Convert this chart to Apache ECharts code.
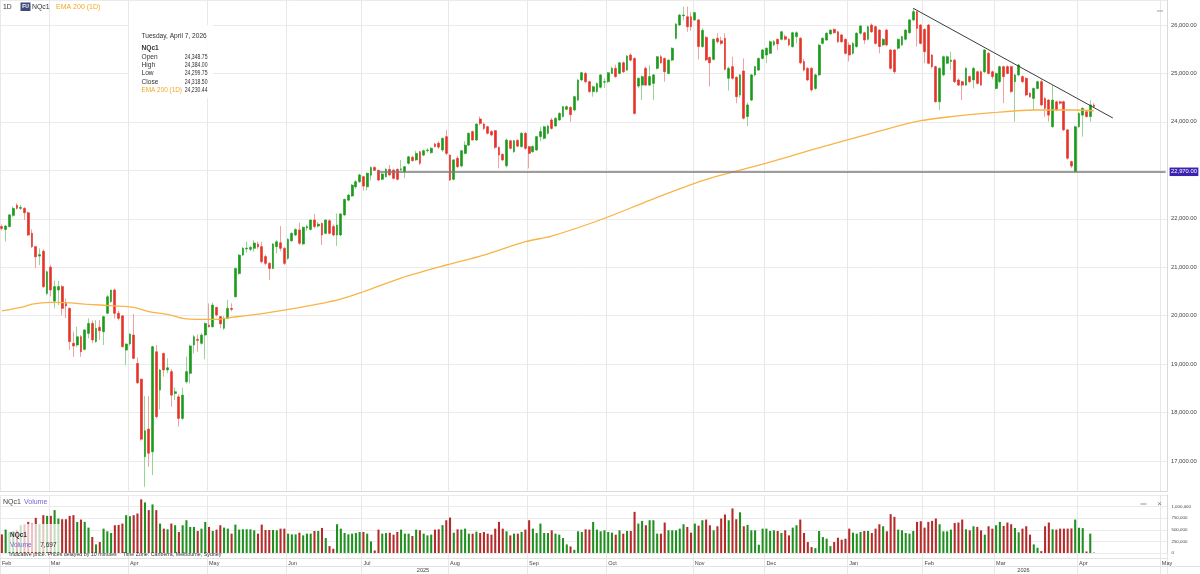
<!DOCTYPE html>
<html>
<head>
<meta charset="utf-8">
<title>NQc1 daily</title>
<script src="https://cdn.jsdelivr.net/npm/echarts@6/dist/echarts.min.js"></script>
<style>
html,body{margin:0;padding:0;background:#ffffff;}
#chart{width:1200px;height:574px;}
</style>
</head>
<body>
<div id="chart"></div>
<script>
// ================= DATA =================
// Each row: [Open, High, Low, Close]
const feb25 = [
[21840,21880,21760,21800],[21780,21870,21530,21850],[21840,22100,21820,22080],[22070,22250,22040,22215],
[22280,22320,22190,22215],[22215,22290,22180,22235],[22215,22240,21975,22125],[22125,22150,21640,21665],
[21700,21780,21400,21425],[21425,21440,20980,21215],[21230,21390,21045,21260],[21330,21370,20570,20600],
[20460,20930,20420,20905]];
const mar25 = [
[21000,21050,20400,20530],[20300,20720,20150,20600],[20530,20720,20220,20600],[20600,20630,20010,20150],
[20250,20350,19950,20200],[20150,20170,19290,19465],[19430,19670,19150,19375],[19395,19770,19350,19565],
[19565,19600,19150,19255],[19305,19720,19280,19705],[19635,19945,19530,19840],[19840,19900,19430,19500],
[19465,19910,19440,19740],[19760,19910,19500,19690],[19670,20000,19395,19980],[20050,20420,20030,20390],
[20290,20530,20260,20530],[20530,20560,19945,20050],[20050,20100,19900,19945],[19995,20010,19340,19360],
[19290,19430,18980,19415]];
const apr25 = [
[19415,19640,19380,19620],[19600,20035,19100,19120],[19015,19140,18590,18615],[18690,18700,17420,17450],
[17090,18340,16470,17625],[17660,18340,16880,17160],[17190,19380,16710,19360],[19255,19395,17880,17915],
[18465,18900,18065,18880],[19220,19235,18740,18880],[18880,19120,18810,18925],[18845,18900,18120,18360],
[18395,18515,18260,18430],[18325,18380,17710,17880],[17880,18515,17850,18360],[18635,19155,18600,18845],
[18810,19400,18600,19375],[19395,19600,19220,19565],[19510,19615,19255,19490],[19430,19640,19400,19600],
[19600,19860,19100,19840]];
const may25 = [
[19805,20255,19760,19770],[19770,20270,19760,20220],[20170,20185,19980,20015],[19980,19990,19740,19830],
[19740,19990,19705,19945],[19945,20325,19930,20150],[20150,20255,20090,20130],[20390,20990,20380,20975],
[20870,21270,20840,21250],[21250,21420,21230,21390],[21380,21525,21300,21395],[21370,21440,21330,21410],
[21390,21560,21320,21500],[21480,21530,21380,21420],[21425,21525,21080,21115],[21220,21260,21040,21080],
[21080,21110,20735,20975],[20975,21500,20960,21480],[21425,21560,21285,21525],[21505,21850,21330,21390],
[21390,21420,21050,21080]];
const jun25 = [
[21185,21600,21150,21575],[21545,21720,21530,21700],[21665,21800,21640,21780],[21770,21920,21460,21495],
[21480,21840,21460,21825],[21810,21880,21760,21840],[21780,21990,21760,21975],[21975,22100,21800,21840],
[21850,21940,21820,21890],[21905,21920,21460,21665],[21700,21990,21680,21975],[21960,21990,21680,21700],
[21840,21880,21640,21665],[21665,22110,21440,21870],[21665,22110,21640,22100],[22080,22420,22060,22400],
[22385,22510,22360,22490],[22470,22720,22450,22695],[22660,22800,22620,22765],[22765,22930,22740,22905]];
const jul25 = [
[22870,22890,22580,22675],[22660,22960,22580,22940],[22900,23080,22790,23060],[23060,23080,22990,23000],
[23000,23010,22780,22800],[22815,22950,22790,22925],[22870,23050,22850,23020],[23020,23110,22880,22905],
[23005,23030,22810,22835],[23020,23040,22790,22815],[23010,23215,22970,23030],[22970,23090,22835,23075],
[23145,23300,23120,23280],[23270,23300,23180,23200],[23215,23405,23190,23350],[23385,23400,23110,23145],
[23315,23430,23290,23405],[23405,23460,23370,23420],[23365,23480,23340,23455],[23545,23570,23470,23490],
[23560,23600,23440,23480],[23420,23680,23380,23660],[23695,23835,23315,23350]];
const aug25 = [
[23315,23330,22780,22800],[22815,23230,22790,23215],[23250,23300,23040,23075],[23090,23420,23060,23405],
[23350,23600,23330,23520],[23520,23780,23500,23765],[23800,23820,23620,23625],[23625,23970,23610,23955],
[24060,24110,23930,23970],[23955,23990,23830,23865],[23900,23920,23740,23765],[23800,23830,23700,23730],
[23820,23830,23440,23475],[23475,23490,23040,23315],[23330,23350,23190,23215],[23095,23660,23060,23625],
[23610,23630,23430,23455],[23385,23630,23360,23610],[23620,23640,23480,23500],[23490,23790,23470,23765],
[23765,23790,23420,23455]];
const sep25 = [
[23490,23500,23040,23350],[23385,23520,23360,23490],[23420,23710,23400,23695],[23695,23900,23600,23800],
[23660,23920,23640,23900],[23765,23940,23740,23915],[24040,24080,23840,23865],[23915,24090,23900,24075],
[24040,24200,24020,24175],[24110,24330,24090,24315],[24260,24340,24240,24315],[24300,24320,24000,24150],
[24245,24540,24220,24520],[24450,24880,24430,24865],[24865,25030,24840,25015],[25000,25030,24800,24830],
[24830,24850,24600,24625],[24625,24750,24520,24725],[24625,24810,24600,24795],[24715,24980,24690,24970],
[24820,24900,24700,24830]];
const oct25 = [
[24830,25030,24800,25015],[25000,25140,24990,25105],[25105,25180,24910,24935],[25000,25240,24980,25220],
[25220,25250,25010,25035],[25070,25380,25050,25360],[25380,25420,25250,25275],[25310,25330,24150,24175],
[24740,24920,24700,24900],[24760,24960,24450,24935],[25105,25140,24740,24760],[24760,25170,24740,24935],
[24795,24990,24450,24970],[25105,25360,25080,25345],[25345,25380,25200,25220],[25310,25330,24830,25035],
[25000,25290,24980,25275],[25275,25540,25250,25520],[25725,26040,25700,26020],[26000,26230,25980,26205],
[26190,26380,26100,26205],[26170,26380,25860,25965],[26170,26260,25880,25965]];
const nov25 = [
[26105,26270,26080,26255],[26105,26120,25290,25555],[25555,25930,25530,25890],[25745,25770,25250,25280],
[25330,25350,24730,25220],[25290,25720,25270,25705],[25725,25830,25620,25655],[25675,25760,25590,25620],
[25725,25830,25060,25085],[24900,25140,24645,25105],[25140,25345,24870,24900],[24920,24940,24385,24520],
[24555,24990,24500,24970],[25050,25310,24050,24075],[24110,24400,23915,24350],[24450,24990,24430,24970],
[24970,25160,24940,25140],[25070,25330,25050,25310],[25310,25500,25290,25485]];
const dec25 = [
[25380,25540,25210,25520],[25415,25680,25400,25655],[25590,25690,25560,25655],[25705,25720,25485,25610],
[25705,25880,25680,25860],[25760,25800,25680,25705],[25705,25730,25560,25590],[25555,25860,25530,25840],
[25760,25870,25620,25840],[25725,25750,25190,25220],[25245,25300,25040,25070],[25105,25130,24840,24865],
[25105,25130,24620,24660],[24690,25000,24660,24970],[24970,25610,24940,25585],[25620,25750,25600,25725],
[25690,25850,25670,25830],[25815,25910,25800,25895],[25910,25930,25820,25840],[25860,25880,25630,25655],
[25795,25810,25630,25655],[25705,25720,25390,25415]];
const jan26 = [
[25585,25640,25245,25380],[25415,25650,25390,25620],[25555,25850,25530,25830],[25830,26000,25800,25980],
[25840,25860,25610,25690],[25705,25990,25680,25965],[26000,26030,25840,25860],[25965,25990,25600,25620],
[25895,25910,25415,25555],[25590,25730,25560,25705],[25895,25920,25560,25590],[25485,25500,25080,25105],
[25485,25500,24990,25035],[25520,25720,25490,25705],[25590,25780,25560,25760],[25705,25920,25680,25895],
[25840,26120,25820,26105],[26105,26345,26080,26275],[26275,26290,25555,25930],[26000,26020,25600,25620]];
const feb26 = [
[25910,25930,25210,25450],[26000,26020,25190,25210],[25380,25400,25100,25140],[25140,25160,24400,24415],
[24415,25130,24245,25105],[24970,25370,24940,25345],[25210,25370,25190,25345],[25245,25450,25070,25275],
[25275,25300,24800,24830],[24865,24900,24740,24760],[24830,24850,24450,24760],[24760,25130,24740,25105],
[24935,24960,24800,24830],[24865,25130,24690,25105],[25035,25060,24770,24795],[25035,25060,24740,24760],
[25035,25500,25010,25485],[25415,25440,24980,25000],[25035,25060,24880,24935]];
const mar26 = [
[24690,25020,24670,25000],[24830,25160,24800,25140],[25140,25160,24385,24935],[25140,25170,24980,25000],
[25140,25160,24600,24625],[24830,24990,24005,24970],[24970,25200,24940,25175],[24935,24960,24800,24830],
[24900,24920,24530,24555],[24590,24610,24500,24520],[24485,24710,24245,24690],[24690,24850,24670,24830],
[24830,24880,24330,24350],[24485,24510,24110,24280],[24450,24470,24005,24140],[23900,24760,23880,24450],
[24415,24440,24220,24245],[24415,24440,24360,24385],[24415,24440,23810,23835],[23835,23850,23220,23250],
[23180,23200,23050,23090],[22975,23920,22960,23900]];
const apr26 = [
[23900,24200,23880,24175],[24140,24300,23695,24280],[24210,24230,24090,24110],[24110,24450,24005,24350],
[24348.75,24384.00,24299.75,24318.50]];

// Volumes (contracts), one per trading day
const volFeb25 = [402000,504000,453000,475000,489000,598000,620000,670000,634000,757000,620000,815000,801000];
const volMar25 = [801000,924000,743000,728000,728000,801000,815000,670000,721000,670000,547000,344000,185000,236000,525000,467000,431000,598000,605000,634000,815000];
const volApr25 = [793000,815000,851000,1156000,1090000,924000,1047000,924000,634000,525000,511000,634000,598000,453000,598000,706000,562000,562000,475000,525000,670000];
const volMay25 = [562000,475000,504000,598000,547000,525000,417000,612000,504000,511000,511000,511000,489000,417000,612000,496000,496000,496000,489000,525000,525000];
const volJun25 = [417000,402000,402000,438000,380000,417000,417000,475000,475000,540000,322000,149000,91000,620000,525000,431000,402000,417000,431000,453000];
const volJul25 = [453000,417000,250000,54000,504000,417000,431000,438000,395000,453000,504000,417000,417000,366000,504000,489000,417000,380000,395000,504000,511000,600000,706000];
const volAug25 = [764000,438000,511000,504000,525000,417000,417000,460000,431000,453000,417000,395000,525000,670000,525000,467000,380000,417000,417000,453000,504000];
const volSep25 = [706000,525000,431000,634000,431000,431000,489000,417000,395000,322000,185000,141000,68000,467000,453000,511000,504000,670000,504000,467000,489000];
const volOct25 = [453000,438000,395000,489000,417000,475000,475000,887000,634000,692000,598000,706000,706000,417000,417000,656000,489000,489000,489000,525000,620000,562000,438000];
const volNov25 = [634000,590000,706000,721000,598000,489000,576000,743000,830000,706000,960000,728000,877000,576000,605000,489000,489000,178000,525000];
const volDec25 = [525000,475000,489000,475000,431000,489000,380000,547000,598000,721000,431000,236000,127000,105000,475000,344000,308000,149000,236000,330000,286000,308000];
const volJan26 = [525000,438000,417000,453000,475000,475000,431000,525000,620000,576000,467000,837000,779000,504000,489000,431000,417000,475000,670000,685000];
const volFeb26 = [547000,670000,692000,743000,620000,467000,467000,504000,648000,656000,721000,511000,489000,576000,562000,489000,395000,576000,525000];
const volMar26 = [598000,670000,583000,656000,620000,540000,446000,525000,576000,395000,185000,112000,40000,576000,656000,511000,504000,525000,525000,525000,530000,721000];
const volApr26 = [544000,536000,33000,417000,7697];

// EMA 200 (1D) values read at sample days
const emaPoints = [
['2025-02-11',20100],['2025-02-20',20185],['2025-02-24',20240],['2025-03-03',20275],['2025-03-07',20268],
['2025-03-14',20240],['2025-03-20',20220],['2025-04-02',20172],['2025-04-08',20082],['2025-04-15',20027],
['2025-04-22',19944],['2025-04-29',19924],['2025-05-05',19924],['2025-05-09',19965],['2025-05-16',20010],
['2025-05-30',20116],['2025-06-20',20323],['2025-07-01',20494],['2025-07-15',20777],['2025-07-31',21046],
['2025-08-14',21252],['2025-08-29',21526],['2025-09-10',21644],['2025-09-29',21980],['2025-10-16',22380],
['2025-11-04',22760],['2025-11-12',22900],['2025-12-01',23150],['2025-12-17',23420],['2026-01-16',23853],
['2026-01-30',24024],['2026-02-11',24107],['2026-02-27',24190],['2026-03-16',24245],['2026-03-31',24245],
['2026-04-07',24230.44]];

// Drawn lines
const trendStart = ['2026-01-28', 26345];
const trendEnd = ['2026-04-14', 24080];
const supportLevel = 22970;
const supportFrom = '2025-07-07';

const holidays = ['2025-02-17','2025-04-18','2025-05-26','2025-06-19','2025-09-01','2025-11-27',
  '2025-12-25','2026-01-01','2026-01-19','2026-02-16'];
const monthNames = ['Jan','Feb','Mar','Apr','May','Jun','Jul','Aug','Sep','Oct','Nov','Dec'];
const axisFirstDay = '2025-02-11';
const axisLastDay = '2026-05-04';

// ================= BUILD =================
function buildDates(a, b) {
  const out = [];
  const d = new Date(a + 'T00:00:00Z');
  const end = new Date(b + 'T00:00:00Z');
  while (d <= end) {
    const wd = d.getUTCDay();
    const s = d.toISOString().slice(0, 10);
    if (wd !== 0 && wd !== 6 && holidays.indexOf(s) < 0) out.push(s);
    d.setUTCDate(d.getUTCDate() + 1);
  }
  return out;
}
const dates = buildDates(axisFirstDay, axisLastDay);
const idx = {};
dates.forEach((d, i) => { idx[d] = i; });
const isMonthStart = (i) => i === 0 || dates[i].slice(0, 7) !== dates[i - 1].slice(0, 7);

const ohlc = [].concat(feb25, mar25, apr25, may25, jun25, jul25, aug25, sep25, oct25, nov25, dec25, jan26, feb26, mar26, apr26);
const volumes = [].concat(volFeb25, volMar25, volApr25, volMay25, volJun25, volJul25, volAug25, volSep25, volOct25, volNov25, volDec25, volJan26, volFeb26, volMar26, volApr26);

const UP = '#1b9a1b', DN = '#e5332a', UP_W = '#97d497', DN_W = '#f2a29e';
const VOL_UP = '#1f8f1f', VOL_DN = '#b52b2b';
const FONT = 'Arial, "Liberation Sans", Helvetica, sans-serif';

const wickData = ohlc.map(r => [r[0], r[3], r[2], r[1]]);
const bodyData = ohlc.map(r => [r[0], r[3], Math.min(r[0], r[3]), Math.max(r[0], r[3])]);
const volData = volumes.map((v, i) => ({ value: v, itemStyle: { color: ohlc[i][3] >= ohlc[i][0] ? VOL_UP : VOL_DN } }));

const fmt2 = v => v.toLocaleString('en-US', { minimumFractionDigits: 2, maximumFractionDigits: 2 });
const last = ohlc[ohlc.length - 1];
const lastEma = emaPoints[emaPoints.length - 1][1];
const lastVol = volumes[volumes.length - 1];
const lastDate = new Date(dates[ohlc.length - 1] + 'T00:00:00Z');
const dateTitle = lastDate.toLocaleDateString('en-US', { weekday: 'long', year: 'numeric', month: 'long', day: 'numeric', timeZone: 'UTC' });

const BAND = 3.766;
const GRID_RIGHT = 1200 - dates.length * BAND;

function txt(x, y, text, opt) {
  opt = opt || {};
  const el = {
    type: 'text', x: x, y: y, z: 100, silent: true,
    style: {
      text: text, fill: opt.fill || '#333', fontSize: opt.size || 6.6, fontFamily: FONT,
      fontWeight: opt.weight || 'normal',
      textAlign: opt.align || 'left', align: opt.align || 'left',
      textVerticalAlign: 'middle', verticalAlign: 'middle'
    }
  };
  if (opt.sx) el.scaleX = opt.sx;
  return el;
}

const tipRows = [
  ['Open', last[0]], ['High', last[1]], ['Low', last[2]], ['Close', last[3]]
];
const graphics = [
  // top-left legend
  txt(3, 6.7, '1D', { size: 6.8 }),
  { type: 'rect', z: 100, silent: true, shape: { x: 20.5, y: 2.5, width: 10, height: 8.5 }, style: { fill: '#3e4a7a' } },
  txt(25.5, 6.9, 'FU', { size: 5, fill: '#ffffff', align: 'center', weight: 'bold' }),
  txt(32, 6.7, 'NQc1', { size: 6.9 }),
  txt(56, 6.7, 'EMA 200 (1D)', { size: 7, fill: '#f5a623' }),
  // info box
  { type: 'rect', z: 99, silent: true, shape: { x: 129, y: 25, width: 84, height: 73 }, style: { fill: 'rgba(255,255,255,0.9)' } },
  txt(141.5, 36, dateTitle, { size: 6.6 }),
  txt(141.5, 47.7, 'NQc1', { size: 6.6, weight: 'bold' }),
  txt(141.5, 90, 'EMA 200 (1D)', { size: 6.4, fill: '#f5a623' }),
  txt(207.5, 90, fmt2(lastEma), { size: 6.4, align: 'right', sx: 0.8 }),
  // volume pane header and icons
  txt(3, 502.3, 'NQc1', { size: 7, fill: '#444' }),
  txt(24, 502.3, 'Volume', { size: 7, fill: '#7a5fd3' }),
  { type: 'line', z: 100, silent: true, shape: { x1: 1140.5, y1: 504, x2: 1146.5, y2: 504 }, style: { stroke: '#777', lineWidth: 0.8 } },
  txt(1159.5, 503.5, '\u00d7', { size: 8, fill: '#777', align: 'center' }),
  { type: 'line', z: 100, silent: true, shape: { x1: 1157, y1: 11, x2: 1163, y2: 11 }, style: { stroke: '#888', lineWidth: 0.8 } },
  // volume overlay box
  { type: 'rect', z: 99, silent: true, shape: { x: 7, y: 524, width: 53, height: 28 }, style: { fill: 'rgba(255,255,255,0.72)' } },
  txt(10, 535, 'NQc1', { size: 6.5, weight: 'bold', fill: '#333' }),
  txt(10, 545, 'Volume', { size: 6.5, fill: '#7a5fd3' }),
  txt(56.5, 545, lastVol.toLocaleString('en-US'), { size: 6.5, align: 'right', fill: '#333' }),
  txt(9.3, 555, 'Indicative price. Prices delayed by 10 minutes    Time Zone: Canberra, Melbourne, Sydney', { size: 5.3, fill: '#333' }),
  // bottom separators
  { type: 'line', z: 1, silent: true, shape: { x1: 0, y1: 558.5, x2: 1168, y2: 558.5 }, style: { stroke: '#e3e3e3', lineWidth: 1 } },
  { type: 'line', z: 1, silent: true, shape: { x1: 0, y1: 566.5, x2: 1200, y2: 566.5 }, style: { stroke: '#e3e3e3', lineWidth: 1 } },
  // year labels
  txt(423, 570.3, '2025', { size: 5.6, align: 'center', fill: '#444' }),
  txt(1023.5, 570.3, '2026', { size: 5.6, align: 'center', fill: '#444' })
];
tipRows.forEach((r, k) => {
  const y = 57 + k * 8.33;
  graphics.push(txt(141.5, y, r[0], { size: 6.6 }));
  graphics.push(txt(207.5, y, fmt2(r[1]), { size: 6.4, align: 'right', sx: 0.8 }));
});

const option = {
  animation: false,
  backgroundColor: '#ffffff',
  grid: [
    { left: 0, right: GRID_RIGHT, top: 0, height: 491, containLabel: false, outerBoundsMode: 'none' },
    { left: 0, right: GRID_RIGHT, top: 495, height: 58, containLabel: false, outerBoundsMode: 'none' }
  ],
  xAxis: [
    {
      type: 'category', gridIndex: 0, data: dates, boundaryGap: true,
      axisLine: { show: true, lineStyle: { color: '#dadada', width: 1 } },
      axisTick: { show: false }, axisLabel: { show: false },
      splitLine: { show: true, interval: (i) => isMonthStart(i), lineStyle: { color: '#e8e8e8', width: 1 } }
    },
    {
      type: 'category', gridIndex: 1, data: dates, boundaryGap: true,
      axisLine: { show: false },
      axisTick: { show: true, interval: (i) => isMonthStart(i), length: 21, lineStyle: { color: '#e8e8e8', width: 1 } },
      axisLabel: {
        show: true, interval: (i) => isMonthStart(i), align: 'left', margin: 7,
        fontSize: 5.5, color: '#444', fontFamily: FONT,
        formatter: (v) => monthNames[parseInt(v.slice(5, 7), 10) - 1]
      },
      splitLine: { show: true, interval: (i) => isMonthStart(i), lineStyle: { color: '#e8e8e8', width: 1 } }
    }
  ],
  yAxis: [
    {
      type: 'value', gridIndex: 0, position: 'right', min: 16381, max: 26516, splitNumber: 10, scale: false,
      axisLine: { show: true, lineStyle: { color: '#dadada' } }, axisTick: { show: false },
      axisLabel: {
        show: true, showMinLabel: false, showMaxLabel: false, margin: 3.5, fontSize: 5.8, color: '#444', fontFamily: FONT,
        formatter: (v) => (v % 1000 === 0 && v !== 23000) ? fmt2(v) : ''
      },
      splitLine: { show: true, lineStyle: { color: '#ebebeb', width: 1 } }
    },
    {
      type: 'value', gridIndex: 1, position: 'right', min: 0, max: 1250000, interval: 250000,
      axisLine: { show: true, lineStyle: { color: '#dadada' } }, axisTick: { show: false },
      axisLabel: {
        show: true, showMaxLabel: false, margin: 4, fontSize: 4.4, color: '#444', fontFamily: FONT,
        formatter: (v) => v.toLocaleString('en-US')
      },
      splitLine: { show: true, lineStyle: { color: '#ebebeb', width: 1 } }
    }
  ],
  graphic: graphics,
  series: [
    {
      type: 'candlestick', name: 'range', xAxisIndex: 0, yAxisIndex: 0, data: wickData, barWidth: 1, z: 2,
      itemStyle: { color: UP_W, color0: DN_W, borderColor: UP_W, borderColor0: DN_W, borderWidth: 1 }
    },
    {
      type: 'candlestick', name: 'NQc1', xAxisIndex: 0, yAxisIndex: 0, data: bodyData, barWidth: 2.3, z: 3,
      itemStyle: { color: UP, color0: DN, borderColor: UP, borderColor0: DN, borderWidth: 0.6 }
    },
    {
      type: 'line', name: 'EMA 200 (1D)', xAxisIndex: 0, yAxisIndex: 0, data: emaPoints, z: 4,
      symbol: 'none', smooth: 0.3, lineStyle: { color: '#f8b445', width: 1.3 },
      markLine: {
        silent: true, symbol: ['none', 'none'], animation: false,
        data: [
          [
            { coord: [idx[supportFrom], supportLevel], lineStyle: { color: '#7c7c7c', width: 1.6, type: 'solid' },
              label: { show: true, position: 'end', distance: 4, formatter: fmt2(supportLevel), color: '#ffffff',
                backgroundColor: '#3b22b0', padding: [1.5, 1.5, 1, 1.5], fontSize: 5.8, fontFamily: FONT } },
            { coord: [dates.length - 1, supportLevel] }
          ],
          [
            { coord: [idx[trendStart[0]], trendStart[1]], lineStyle: { color: '#3c3c3c', width: 1, type: 'solid' }, label: { show: false } },
            { coord: [idx[trendEnd[0]], trendEnd[1]] }
          ]
        ]
      }
    },
    {
      type: 'bar', name: 'Volume', xAxisIndex: 1, yAxisIndex: 1, data: volData, barWidth: '55%'
    }
  ]
};

const chart = echarts.init(document.getElementById('chart'), null, { renderer: 'canvas' });
chart.setOption(option);
</script>
</body>
</html>
